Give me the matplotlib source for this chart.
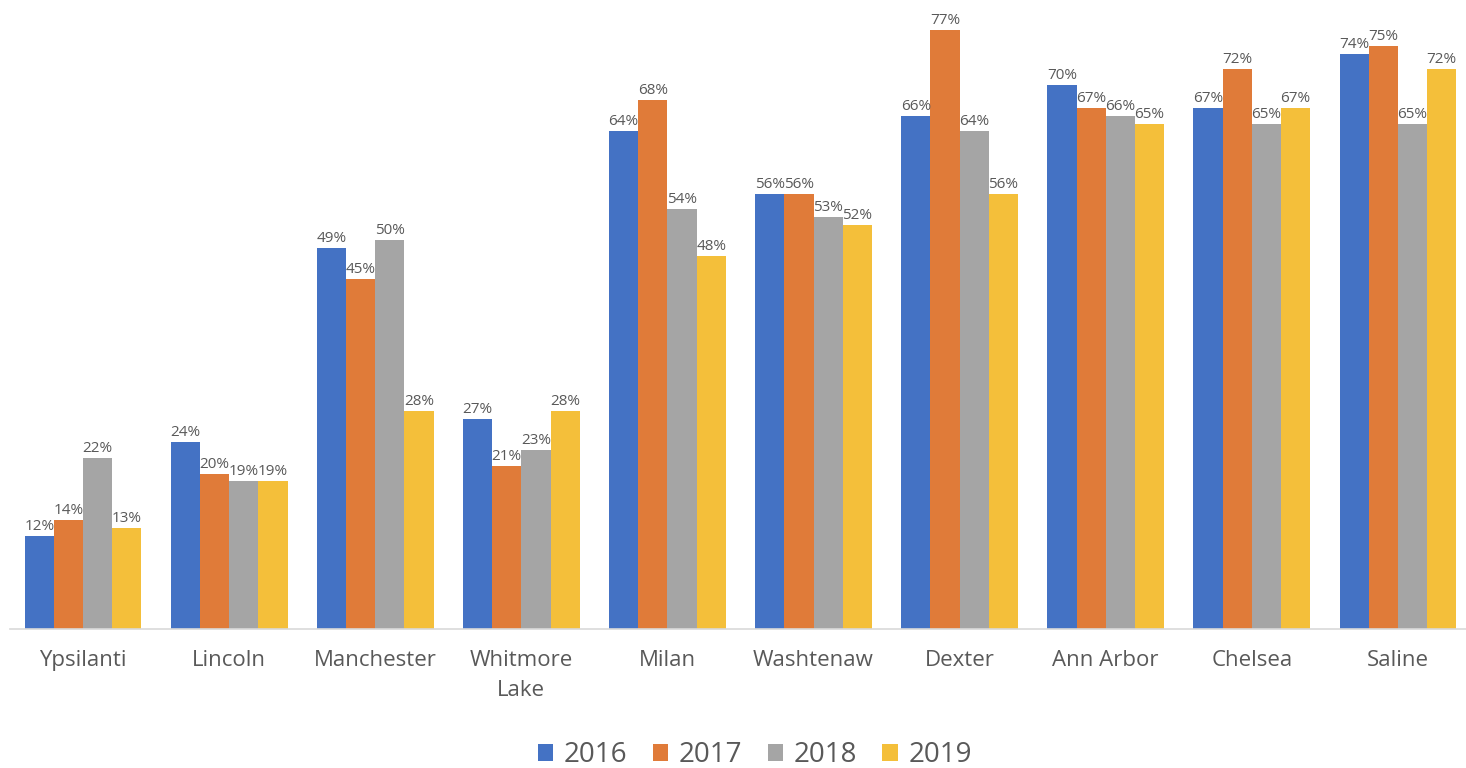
import numpy as np
import matplotlib
matplotlib.use('Agg')
import matplotlib.pyplot as plt

# data (percent)
districts = ['Ypsilanti', 'Lincoln', 'Manchester', 'Whitmore\nLake', 'Milan',
             'Washtenaw', 'Dexter', 'Ann Arbor', 'Chelsea', 'Saline']
years = ['2016', '2017', '2018', '2019']
v2016 = [12, 24, 49, 27, 64, 56, 66, 70, 67, 74]
v2017 = [14, 20, 45, 21, 68, 56, 77, 67, 72, 75]
v2018 = [22, 19, 50, 23, 54, 53, 64, 66, 65, 65]
v2019 = [13, 19, 28, 28, 48, 52, 56, 65, 67, 72]
colors = ['#4472C4', '#E07B39', '#A5A5A5', '#F4BF3A']

plt.rcParams['font.family'] = ['Open Sans', 'DejaVu Sans']

fig = plt.figure(figsize=(14.66, 7.68), dpi=100)
ax = fig.add_axes([10 / 1466, 139 / 768, 1461 / 1466, 622 / 768])

x = np.arange(len(districts))
w = 0.2
series = [v2016, v2017, v2018, v2019]
for i, vals in enumerate(series):
    pos = x + (i - 1.5) * w
    bars = ax.bar(pos, vals, width=w, color=colors[i], label=years[i])
    for b, v in zip(bars, vals):
        ax.text(b.get_x() + b.get_width() / 2, v + 0.25, '%d%%' % v,
                ha='center', va='bottom', fontsize=11, color='#595959')

ax.set_xlim(-0.5, len(districts) - 0.5)
ax.set_ylim(0, 80)
ax.set_yticks([])
ax.set_xticks(x)
ax.set_xticklabels(districts, fontsize=16, color='#595959', linespacing=1.55)
ax.tick_params(axis='x', length=0, pad=15)
for s in ['top', 'right', 'left']:
    ax.spines[s].set_visible(False)
ax.spines['bottom'].set_color('#D9D9D9')
ax.spines['bottom'].set_linewidth(1.2)

leg = fig.legend(loc='lower center', bbox_to_anchor=(0.515, -0.034), ncol=4,
                 frameon=False, fontsize=20, handlelength=0.55, handleheight=0.55,
                 handletextpad=0.4, columnspacing=0.9)
for t in leg.get_texts():
    t.set_color('#595959')

fig.savefig('out.png', dpi=100)
